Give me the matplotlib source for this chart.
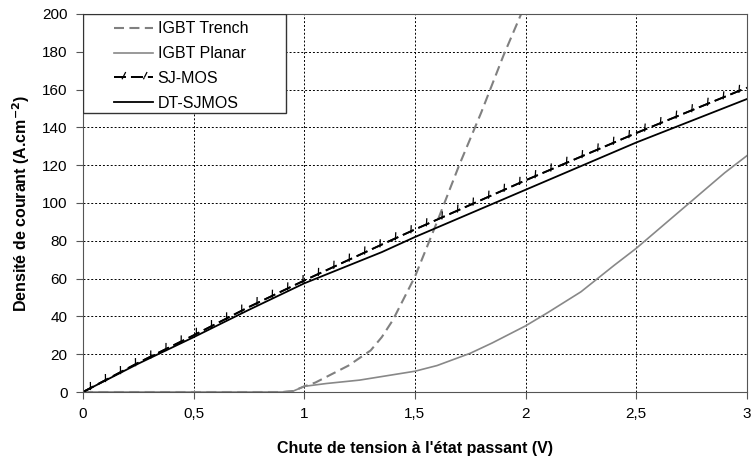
import matplotlib
matplotlib.use("Agg")
import matplotlib.pyplot as plt
import matplotlib.patheffects as pe
from matplotlib.patches import Rectangle
from matplotlib.ticker import FuncFormatter

plt.rcParams['font.family'] = ['Liberation Sans', 'DejaVu Sans']

# courbes
v_trench = [0, 0.9, 0.95, 1.0, 1.05, 1.1, 1.2, 1.3, 1.35, 1.4, 1.5, 1.6, 1.7, 1.8, 1.9, 1.98]
i_trench = [0, 0, 0.5, 3, 5, 8, 14, 22, 29, 38, 61, 90, 120, 148, 178, 200]

v_planar = [0, 0.9, 0.95, 1.0, 1.1, 1.25, 1.5, 1.6, 1.75, 1.85, 2.0, 2.1, 2.25, 2.4, 2.5, 2.6, 2.75, 2.9, 3.0]
i_planar = [0, 0, 0.5, 3, 4.5, 6.3, 11, 14, 20.5, 26, 35, 42, 53, 67, 76, 86, 101, 116, 125]

v_sj = [0, 0.25, 0.5, 0.75, 1.0, 1.35, 1.5, 2.0, 2.5, 3.0]
i_sj = [0, 15.5, 30, 45, 59, 78, 86, 112, 137, 161]

v_dt = [0, 0.25, 0.5, 0.75, 1.0, 1.35, 1.5, 2.0, 2.5, 3.0]
i_dt = [0, 15, 29, 43.5, 57.5, 74, 82, 107, 132, 155]

fig = plt.figure(figsize=(7.51, 4.57), dpi=100)
ax = fig.add_axes([0.1105, 0.1422, 0.884, 0.8272])

ax.plot(v_trench, i_trench, color='#808080', lw=1.5, ls=(0, (4.8, 2.6)), label='IGBT Trench')
ax.plot(v_planar, i_planar, color='#888888', lw=1.2, label='IGBT Planar')
ticks = [pe.withTickedStroke(spacing=12.2, angle=63, length=0.36, linewidth=0.9),
         pe.withTickedStroke(spacing=12.2, angle=-117, length=0.12, linewidth=0.9)]
ax.plot(v_sj, i_sj, color='black', lw=1.3, ls=(0, (6.6, 2.8)), label='SJ-MOS',
        path_effects=ticks)
ax.plot(v_dt, i_dt, color='black', lw=1.3, label='DT-SJMOS')

ax.set_xlim(0, 3)
ax.set_ylim(0, 200)
ax.set_xticks([0, 0.5, 1, 1.5, 2, 2.5, 3])
ax.set_yticks(range(0, 201, 20))
ax.xaxis.set_major_formatter(FuncFormatter(lambda v, p: ('%g' % v).replace('.', ',')))
ax.grid(True, color='black', ls=(0, (2, 2)), lw=0.7)
ax.tick_params(labelsize=11, length=5, color='#555555', pad=6)
for s in ax.spines.values():
    s.set_color('#555555')

ax.set_xlabel("Chute de tension à l'état passant (V)", fontsize=11.5, fontweight='bold', labelpad=14)
ax.set_ylabel("Densité de courant (A.cm$^{\\mathbf{-2}}$)", fontsize=11.5, fontweight='bold', labelpad=7)

# cadre de la légende
ax.add_patch(Rectangle((0, 0.738), 0.3065, 0.262, transform=ax.transAxes,
                       facecolor='white', edgecolor='#333333', lw=1.0, zorder=4))
leg = ax.legend(loc='upper left', bbox_to_anchor=(0.045, 0.985), fontsize=11.5, frameon=False,
                handlelength=2.4, borderaxespad=0, labelspacing=0.62, handletextpad=0.3,
                borderpad=0.1)
leg.set_zorder(5)

fig.savefig('out.png', dpi=100)
